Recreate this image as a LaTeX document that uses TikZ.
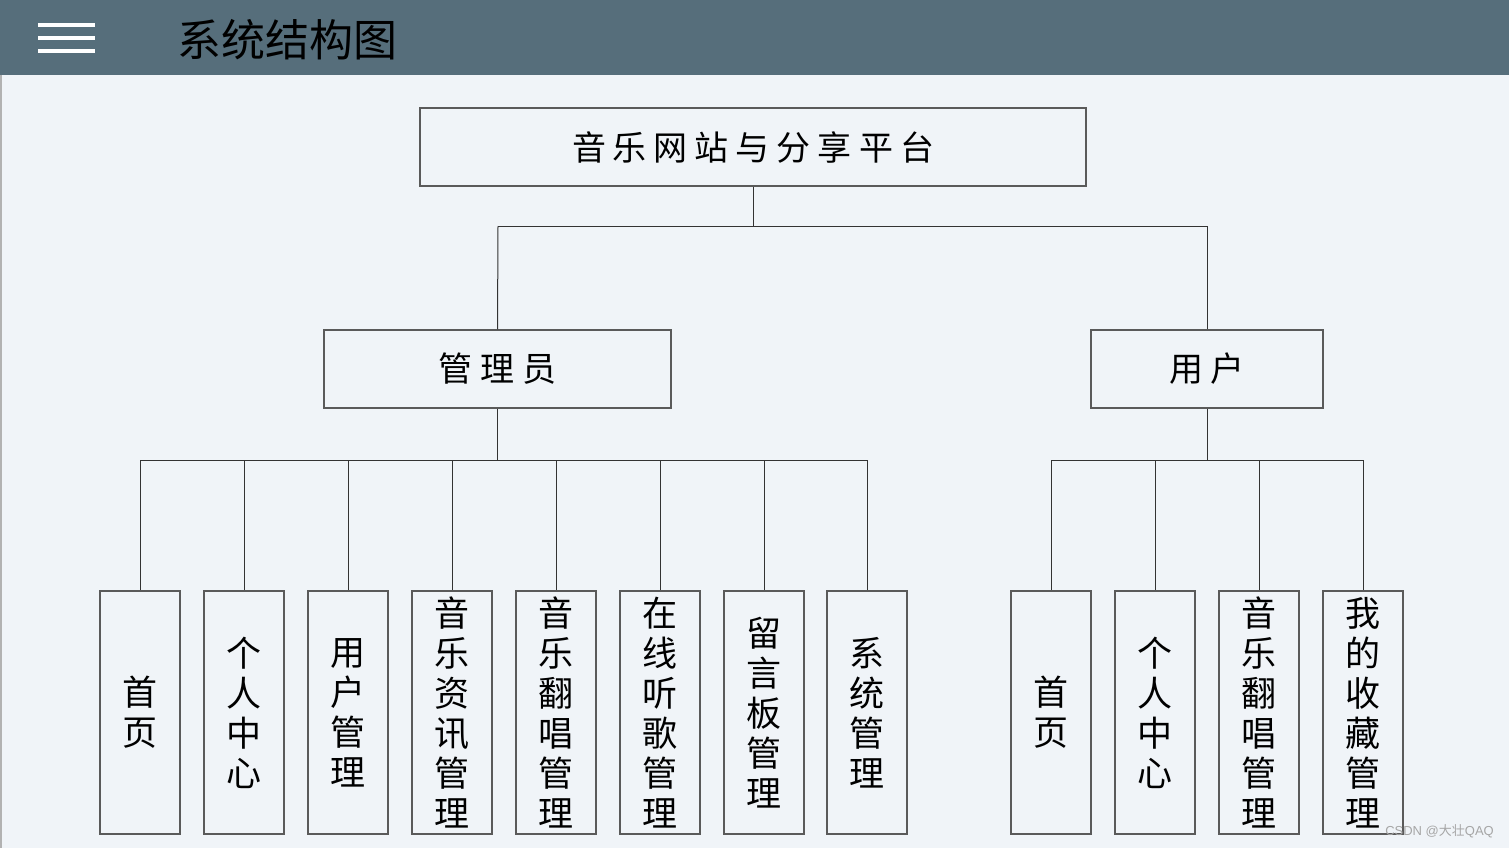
\documentclass[tikz,border=0pt]{standalone}
\usepackage{fontspec}
\setmainfont{Noto Sans CJK SC}
\newfontfamily\wmfont{Liberation Sans}
\definecolor{bgc}{HTML}{F0F4F8}
\definecolor{hdrc}{HTML}{566E7B}
\definecolor{boxc}{HTML}{5A5A5A}
\definecolor{linec}{HTML}{333333}
\newcommand{\spc}[1]{\kern#1pt}
\begin{document}
\begin{tikzpicture}[x=1pt,y=-1pt,
  box/.style={draw=boxc, line width=1.3pt, inner sep=0pt, fill=bgc},
  leaf/.style={box, minimum width=80, minimum height=243, align=center,
    font=\fontsize{35}{40}\selectfont},
  conn/.style={draw=linec, line width=1pt}]
\useasboundingbox (0,0) rectangle (1509,848);
\fill[bgc] (0,0) rectangle (1509,848);
\fill[hdrc] (0,0) rectangle (1509,75);
\fill[gray!60] (0,75) rectangle (2,848);
% hamburger
\foreach \yy in {23,36,49} \fill[white] (38,\yy) rectangle (95,\yy+4.5);
\node[anchor=west, inner sep=0, font=\fontsize{44}{44}\selectfont] (title) at (177,40) {系统结构图};
% top
\node[box, minimum width=666, minimum height=78, font=\fontsize{34}{34}\selectfont] (root) at (753,147)
  {音\spc{7}乐\spc{7}网\spc{7}站\spc{7}与\spc{7}分\spc{7}享\spc{7}平\spc{7}台};
\node[box, minimum width=347, minimum height=78, font=\fontsize{34}{34}\selectfont] (admin) at (497.5,369) {管\spc{8}理\spc{8}员};
\node[box, minimum width=232, minimum height=78, font=\fontsize{34}{34}\selectfont] (user) at (1207,369) {用\spc{7}户};
\coordinate (j0) at (753,226);
\draw[conn] (root.south) -- (j0);
\draw[conn] (498,226) -- (1207,226);
\draw[conn] (admin.north) -- (498,226);
\draw[conn] (user.north) -- (1207,226);
% admin leaves
\node[leaf] (a1) at (140,712.5) {首\\页};
\node[leaf] (a2) at (244,712.5) {个\\人\\中\\心};
\node[leaf] (a3) at (348,712.5) {用\\户\\管\\理};
\node[leaf] (a4) at (452,712.5) {音\\乐\\资\\讯\\管\\理};
\node[leaf] (a5) at (556,712.5) {音\\乐\\翻\\唱\\管\\理};
\node[leaf] (a6) at (660,712.5) {在\\线\\听\\歌\\管\\理};
\node[leaf] (a7) at (764,712.5) {留\\言\\板\\管\\理};
\node[leaf] (a8) at (867,712.5) {系\\统\\管\\理};
\coordinate (ja) at (497.5,460);
\draw[conn] (admin.south) -- (ja);
\draw[conn] (a1.north |- ja) -- (a8.north |- ja);
\foreach \n in {a1,a2,a3,a4,a5,a6,a7,a8} \draw[conn] (\n.north |- ja) -- (\n.north);
% user leaves
\node[leaf] (u1) at (1051,712.5) {首\\页};
\node[leaf] (u2) at (1155,712.5) {个\\人\\中\\心};
\node[leaf] (u3) at (1259,712.5) {音\\乐\\翻\\唱\\管\\理};
\node[leaf] (u4) at (1363,712.5) {我\\的\\收\\藏\\管\\理};
\coordinate (ju) at (1207,460);
\draw[conn] (user.south) -- (ju);
\draw[conn] (u1.north |- ju) -- (u4.north |- ju);
\foreach \n in {u1,u2,u3,u4} \draw[conn] (\n.north |- ju) -- (\n.north);
% watermark
\node[anchor=east, inner sep=0, text=gray!70, font=\fontsize{13}{13}\selectfont] (wm) at (1494,831) {\wmfont CSDN @\normalfont 大壮\wmfont QAQ};
\end{tikzpicture}
\end{document}
